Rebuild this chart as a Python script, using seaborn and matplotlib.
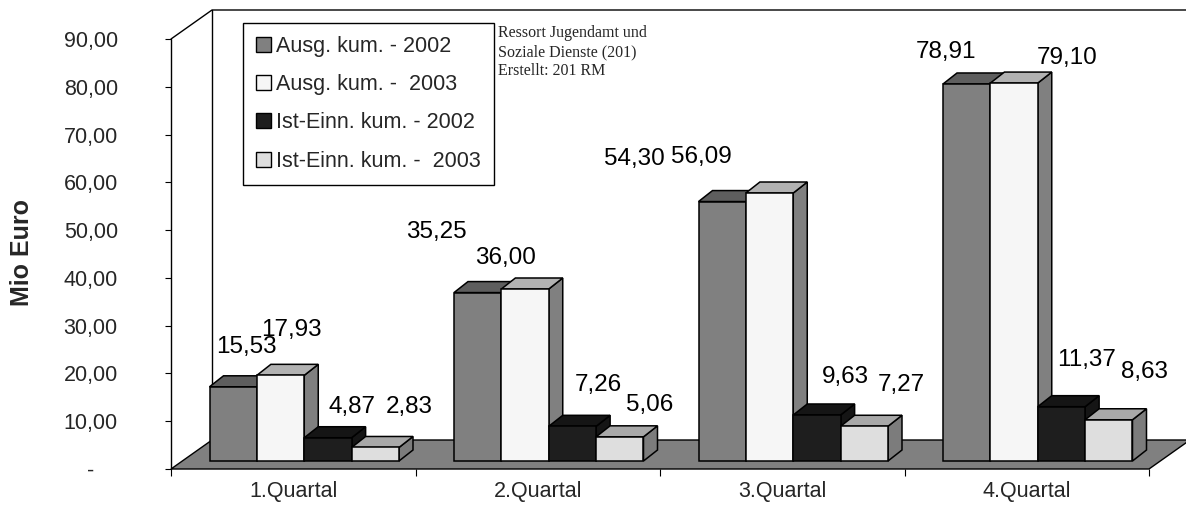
import numpy as np
import pandas as pd
import seaborn as sns
import matplotlib.pyplot as plt
from matplotlib.patches import Polygon, Patch
from matplotlib.lines import Line2D
from matplotlib.transforms import ScaledTranslation

quarters = ["1.Quartal", "2.Quartal", "3.Quartal", "4.Quartal"]
series = ["Ausg. kum. - 2002", "Ausg. kum. -  2003",
          "Ist-Einn. kum. - 2002", "Ist-Einn. kum. -  2003"]
ausg_2002 = [15.53, 35.25, 54.30, 78.91]
ausg_2003 = [17.93, 36.00, 56.09, 79.10]
einn_2002 = [4.87, 7.26, 9.63, 11.37]
einn_2003 = [2.83, 5.06, 7.27, 8.63]
yticks = [0, 10, 20, 30, 40, 50, 60, 70, 80, 90]

front_colors = ["#808080", "#f6f6f6", "#1e1e1e", "#dedede"]
top_colors = ["#5e5e5e", "#b2b2b2", "#151515", "#a8a8a8"]
side_colors = ["#606060", "#808080", "#151515", "#7c7c7c"]

# label offsets in pixels (dx, dy up) from the top-centre of each bar
# rows = series, cols = quarters
label_off = [
    [(13, 40), (-41, 61), (-88, 43), (-21, 32)],
    [(11, 45), (-20, 31), (-68, 36), (53, 25)],
    [(24, 31), (26, 41), (29, 38), (25, 47)],
    [(34, 40), (30, 32), (37, 41), (36, 48)],
]

rows = []
for s, vals in zip(series, [ausg_2002, ausg_2003, einn_2002, einn_2003]):
    for q, v in zip(quarters, vals):
        rows.append({"Quartal": q, "Reihe": s, "Wert": v})
df = pd.DataFrame(rows)

sns.set_style("white")
plt.rcParams["font.family"] = ["Liberation Sans", "DejaVu Sans"]

W, H = 1186, 507
fig = plt.figure(figsize=(W / 100, H / 100), dpi=100)
ax = fig.add_axes([171 / W, (H - 469) / H, (1149 - 171) / W, (469 - 39) / H])

sns.barplot(data=df, x="Quartal", y="Wert", hue="Reihe", order=quarters,
            hue_order=series, palette=front_colors, saturation=1, width=0.775,
            edgecolor="black", linewidth=1.1, legend=False, ax=ax)

ax.set_xlim(-0.5, 3.5)
ax.set_ylim(0, 90)
for sp in ax.spines.values():
    sp.set_visible(False)

ux = (1149 - 171) / 4.0
uy = (469 - 39) / 90.0


def px(dx, dy):
    return dx / ux, dy / uy


# floor + back wall
fx, fy = px(41, 29)
floor = Polygon([(-0.5, 0), (3.5, 0), (3.5 + fx, fy), (-0.5 + fx, fy)],
                closed=True, facecolor="#808080", edgecolor="black", lw=1.0,
                zorder=1, clip_on=False)
ax.add_patch(floor)
ax.add_line(Line2D([-0.5, -0.5], [0, 90], color="black", lw=1.0, clip_on=False, zorder=1))
ax.add_line(Line2D([-0.5, -0.5 + fx, 3.6 + fx], [90, 90 + fy, 90 + fy],
                   color="black", lw=1.0, clip_on=False, zorder=1))
ax.add_line(Line2D([-0.5 + fx, -0.5 + fx], [fy, 90 + fy], color="black",
                   lw=1.0, clip_on=False, zorder=0.5))

# fake 3d: shift bars back a bit, add top + side faces
shift = ax.transData + ScaledTranslation(11 / 100, 8 / 100, fig.dpi_scale_trans)
bdx, bdy = px(14, 11)
bars = []
for si, cont in enumerate(ax.containers):
    for qi, p in enumerate(cont.patches):
        bars.append((p.get_x(), si, qi, p))
bars.sort(key=lambda b: b[0])

for rank, (x0, si, qi, p) in enumerate(bars):
    w, h = p.get_width(), p.get_height()
    base = 3 + 3 * rank
    p.set_transform(shift)
    p.set_zorder(base + 2)
    side = Polygon([(x0 + w, 0), (x0 + w + bdx, bdy), (x0 + w + bdx, h + bdy), (x0 + w, h)],
                   closed=True, facecolor=side_colors[si], edgecolor="black", lw=1.1,
                   transform=shift, zorder=base, clip_on=False)
    top = Polygon([(x0, h), (x0 + w, h), (x0 + w + bdx, h + bdy), (x0 + bdx, h + bdy)],
                  closed=True, facecolor=top_colors[si], edgecolor="black", lw=1.1,
                  transform=shift, zorder=base + 1, clip_on=False)
    ax.add_patch(side)
    ax.add_patch(top)
    odx, ody = label_off[si][qi]
    ax.annotate(f"{h:.2f}".replace(".", ","), xy=(x0 + w / 2, h), xycoords=shift,
                xytext=(odx, ody), textcoords="offset pixels", ha="center",
                va="center", fontsize=17.5, color="black", zorder=100)

ax.set_yticks(yticks)
ax.set_yticklabels([f"{t:.2f}".replace(".", ",") if t else "-    " for t in yticks])
ax.tick_params(axis="y", which="major", left=True, length=4.3, width=0.8,
               color="black", pad=34, labelsize=15.5)
ax.set_xticks(range(4))
ax.set_xticklabels(quarters)
ax.set_xticks(np.arange(-0.5, 4.0, 1.0), minor=True)
ax.tick_params(axis="x", which="major", length=0, pad=9, labelsize=15.5)
ax.tick_params(axis="x", which="minor", bottom=True, length=5, width=0.8, color="black")
ax.set_xlabel("")
ax.set_ylabel("")

fig.text(22 / W, 1 - 252 / H, "Mio Euro", rotation=90, ha="center", va="center",
         fontsize=18, fontweight="bold")

handles = [Patch(facecolor=c, edgecolor="black", lw=1.0) for c in front_colors]
leg = fig.legend(handles, series, loc="upper left",
                 bbox_to_anchor=(243 / W, 1 - 23 / H), frameon=True, fancybox=False,
                 edgecolor="black", framealpha=1, fontsize=15.5, handlelength=0.7,
                 handleheight=0.7, handletextpad=0.25, labelspacing=0.8,
                 borderpad=0.6, borderaxespad=0)
leg.get_frame().set_linewidth(1.0)

fig.text(498 / W, 1 - 25 / H, "Ressort Jugendamt und\nSoziale Dienste (201)\nErstellt: 201 RM",
         ha="left", va="top", fontsize=11.5, family="Liberation Serif", linespacing=1.25)

fig.savefig("out.png", dpi=100)
